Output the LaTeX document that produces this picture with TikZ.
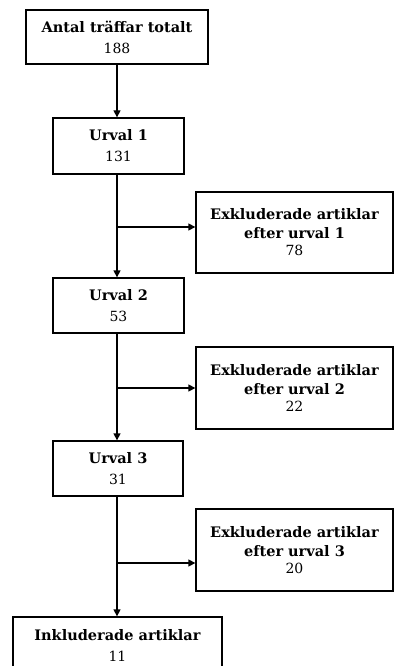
\documentclass[tikz,border=0pt]{standalone}
\usepackage{fontspec}
\setmainfont{DejaVu Serif}
\usetikzlibrary{arrows.meta}
\newcommand{\numtxt}[1]{{\fontsize{14}{17}\selectfont #1}}
\begin{document}
\begin{tikzpicture}[x=1pt,y=-1pt,
  box/.style={draw=black, line width=1.3pt, fill=white, inner sep=0pt, align=center, font=\fontsize{14.5}{21}\selectfont},
  exbox/.style={box, minimum width=197pt, font=\fontsize{14.5}{19}\selectfont},
  conn/.style={line width=1.3pt, -{Triangle[length=7pt,width=7pt]}}]
\useasboundingbox (0,0) rectangle (399,666);
\node[box, minimum width=182pt, minimum height=54pt] (b0) at (117,37) {\textbf{Antal träffar totalt}\\\numtxt{188}};
\node[box, minimum width=131pt, minimum height=56pt] (u1) at (118.5,146) {\textbf{Urval 1}\\\numtxt{131}};
\node[box, minimum width=131pt, minimum height=55pt] (u2) at (118.5,305.5) {\textbf{Urval 2}\\\numtxt{53}};
\node[box, minimum width=130pt, minimum height=55pt] (u3) at (118,468.5) {\textbf{Urval 3}\\\numtxt{31}};
\node[box, minimum width=209pt, minimum height=56pt] (fin) at (117.5,645) {\textbf{Inkluderade artiklar}\\\numtxt{11}};
\node[exbox, minimum height=81pt] (e1) at (294.5,232.5) {\textbf{Exkluderade artiklar}\\\textbf{efter urval 1}\\[-2pt]\numtxt{78}};
\node[exbox, minimum height=82pt] (e2) at (294.5,388) {\textbf{Exkluderade artiklar}\\\textbf{efter urval 2}\\[-2pt]\numtxt{22}};
\node[exbox, minimum height=82pt] (e3) at (294.5,550) {\textbf{Exkluderade artiklar}\\\textbf{efter urval 3}\\[-2pt]\numtxt{20}};
\coordinate (j1) at (117,227);
\coordinate (j2) at (117,388);
\coordinate (j3) at (117,563);
\draw[conn] (b0.south -| j1) -- (u1.north -| j1);
\draw[conn] (u1.south -| j1) -- (u2.north -| j1);
\draw[conn] (u2.south -| j1) -- (u3.north -| j1);
\draw[conn] (u3.south -| j1) -- (fin.north -| j1);
\draw[conn] (j1) -- (j1 -| e1.west);
\draw[conn] (j2) -- (j2 -| e2.west);
\draw[conn] (j3) -- (j3 -| e3.west);
\end{tikzpicture}
\end{document}
